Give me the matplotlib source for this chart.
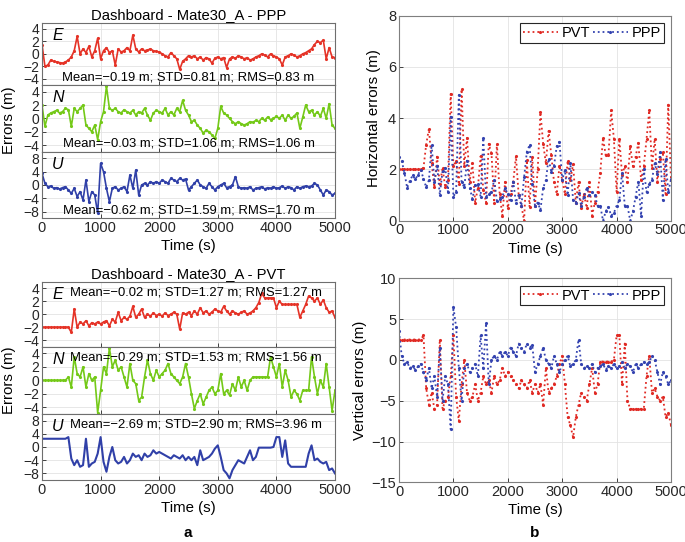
import numpy as np
import matplotlib
matplotlib.use('Agg')
import matplotlib.pyplot as plt

TIME = np.arange(0, 5001, 50)

# ---- PPP errors (m), read by eye ----
PPP_E = [1.5, -2.0, -1.8, -1.0, -1.2, -1.3, -1.4, -1.5, -1.3, -1.0,
         -0.5, 0.5, 2.8, 0.0, 0.8, 0.2, 1.2, -0.5, 0.5, 2.5,
         -0.8, 0.5, 1.0, 0.2, 0.5, -1.8, 0.8, 0.3, 0.5, 1.0,
         0.5, 3.0, 0.8, 0.3, 0.8, 0.5, 0.6, 0.8, 0.5, 0.4,
         0.3, 0.0, -0.3, -0.5, 0.2, -0.3, -0.8, -2.5, -1.2, -0.8,
         -0.3, -0.5, -0.3, -0.8, -0.5, -1.0, -0.6, -0.8, -1.5, -0.7,
         -0.5, -0.8, -0.6, -2.2, -0.8, -0.5, -0.7, -0.3, -0.5, -0.8,
         -0.6, -1.0, -0.8, -0.5, -0.3, 0.0, -0.2, -0.5, 0.0, -0.3,
         -0.5, -0.8, -1.8, -0.5, -0.3, 0.0, -0.2, -0.5, -0.3, 0.0,
         0.2, 0.5, 0.8, 1.5, 2.0, 1.8, 2.2, -0.8, 1.0, -0.5,
         -0.6]
PPP_N = [2.0, -1.2, 0.5, 0.8, 1.0, 1.2, 0.8, 1.0, 1.5, 1.3,
         -1.2, 1.5, 1.0, 1.5, 2.0, -1.0, -1.5, -2.0, -1.0, -3.2,
         -0.5, 1.0, 4.8, 1.5, 1.2, 1.5, 1.0, 0.8, 1.3, 1.0,
         0.8, 1.2, 0.5, 1.0, 0.8, 1.5, 0.5, -0.3, 0.8, 1.2,
         1.0, 0.8, 1.5, 0.5, 1.0, 0.5, 1.5, 1.0, 2.7, 1.2,
         0.5, -0.5, -0.3, -1.0, -1.5, -2.2, -1.8, -2.0, -2.5, -3.0,
         -1.5, 1.8, 0.8, 0.5, 0.0, -0.5, -0.8, -0.5, -0.8, -1.0,
         -0.8, -0.5, -0.6, -0.3, -0.5, 0.0, -0.3, 0.2, -0.2, 0.0,
         0.3, 0.0, 0.5, -0.3, 0.5, 0.0, 0.3, 0.8, -1.5, 0.2,
         2.0, 1.0, 1.2, 0.5, 1.0, 0.3, 1.5, 0.0, 2.2, -1.0,
         -1.5]
PPP_U = [3.5, 0.5, -0.5, -0.3, -1.0, -0.8, -1.2, -0.8, -0.5, -1.5,
         -2.5, -1.0, -3.5, -2.0, -4.5, 1.5, -5.0, -2.0, -3.0, -8.5,
         6.5, 4.0, -1.0, -5.0, -1.0, -0.5, -1.5, -1.0, -0.5, -2.0,
         3.0, -1.0, 4.5, -3.0, 0.0, 0.5, 0.0, 1.0, 0.5, 1.0,
         0.5, 1.5, 1.0, 0.5, 2.0, 1.5, 1.0, 2.0, 1.5, 1.8,
         -1.5, -0.5, 0.5, 1.5, 0.0, -0.5, -1.0, 0.5, -0.5, -1.5,
         -0.5, 0.0, 0.5, -0.8, -0.5, 0.0, 2.5, -0.5, -1.0, -0.8,
         -1.0, -0.5, -1.5, -1.0, -0.8, -0.5, -1.2, -0.8, -1.0, -0.5,
         -1.0, -0.8, -0.3, -1.0, -0.5, -0.8, -1.5, -0.5, -1.0, -0.5,
         -0.3, -0.5, -0.3, 0.5, 0.0, -1.5, -3.0, -1.5, -2.0, -3.0,
         -2.5]

# ---- PVT errors (m), read by eye ----
PVT_E = [-2.0, -2.0, -2.0, -2.0, -2.0, -2.0, -2.0, -2.0, -2.0, -2.0,
         -2.8, 0.8, -2.0, -1.2, -1.5, -1.0, -1.8, -1.3, -1.5, -1.2,
         -1.5, -1.2, -1.0, -1.8, -0.8, -1.2, 0.3, -1.0, -0.5, -0.8,
         -0.3, 1.2, -0.5, 0.0, 0.8, -0.5, 0.0, -0.3, 0.2, -0.2,
         0.0, -0.3, 0.2, -0.2, 0.0, 0.3, 0.0, -2.3, 0.2, 0.0,
         0.3, -0.2, 0.5, 0.0, 1.0, 0.2, 0.5, 0.0, 0.3, 0.8,
         0.5, 0.3, 1.2, 0.5, 0.0, 0.5, 0.2, 0.0, 0.3, 0.5,
         0.0, 0.2, 0.5, 1.0, 1.8, 3.2, 2.5, 2.5, 2.5, 2.5,
         1.0, 2.0, 1.5, 1.5, 1.5, 1.5, 1.5, 1.5, -0.5, 0.5,
         1.5, 2.8, 2.5, 2.0, 2.5, 1.5, 2.2, 1.0, 0.3, 0.5,
         -0.5]
PVT_N = [0.0, 0.0, 0.0, 0.0, 0.0, 0.0, 0.0, 0.0, 0.0, 0.5,
         -1.0, 3.5, 1.0, 0.5, 2.0, -1.0, 1.0, 0.0, 0.5, -4.8,
         -1.5, 2.0, 1.0, 4.8, 2.0, 3.0, 1.5, 2.0, 0.5, -1.0,
         2.5, 0.0, -0.5, -3.0, -2.5, 0.5, 3.0, 1.0, 0.0, 1.5,
         0.5, 1.0, 1.5, 2.5, 1.0, 0.5, 0.0, -0.5, 0.5, 2.5,
         0.5, -2.0, -4.2, -3.0, -2.0, -3.5, -2.5, -1.5, -1.0, -2.0,
         -1.5, 1.0, -2.0, -1.5, -2.2, -0.5, -1.5, 0.5, -1.0, 0.0,
         -1.5, 0.0, 0.5, 0.5, 0.5, 0.5, 0.5, 0.5, 3.5, 2.0,
         0.5, 2.5, -1.0, 1.5, 0.0, -2.5, -1.5, -2.0, -3.0, -1.5,
         -1.5, -1.5, 3.5, 0.5, -2.0, 0.0, -1.0, 2.5, -1.0, -4.5,
         -1.5]
PVT_U = [2.5, 2.5, 2.5, 2.5, 2.5, 2.5, 2.5, 2.5, 2.5, 3.0,
         -3.5, -5.5, -4.0, -6.0, -5.5, 2.5, -6.0, -5.0, -4.5, -2.0,
         3.0, -4.5, -7.5, -3.0, 0.0, -4.0, -5.0, -4.5, -3.0, -5.0,
         -4.0, -2.0, -3.0, -2.5, -4.0, -2.0, -3.0, -2.5, -1.0, -2.0,
         -1.5, -2.0, -2.5, -3.0, -3.5, -2.5, -3.0, -3.5, -2.5, -4.0,
         -3.0, -4.0, -3.0, -5.5, -1.0, -4.0, -3.5, -3.0, -2.0, -0.5,
         0.5, -3.0, -7.0, -8.0, -9.5, -7.0, -5.5, -4.0, -4.5, -5.0,
         -3.0, -1.0, -4.0, -3.0, -0.2, -0.2, -0.2, -0.2, -0.2, 0.0,
         3.0, 3.0, -3.0, 2.0, -5.0, -6.0, -6.0, -6.0, -6.0, -6.0,
         -6.0, -2.0, 0.5, -4.0, -3.5, -4.5, -5.0, -4.5, -7.0, -6.5,
         -8.0]

STATS = {
    'PPP': ['Mean=\u22120.19 m; STD=0.81 m; RMS=0.83 m',
            'Mean=\u22120.03 m; STD=1.06 m; RMS=1.06 m',
            'Mean=\u22120.62 m; STD=1.59 m; RMS=1.70 m'],
    'PVT': ['Mean=\u22120.02 m; STD=1.27 m; RMS=1.27 m',
            'Mean=\u22120.29 m; STD=1.53 m; RMS=1.56 m',
            'Mean=\u22122.69 m; STD=2.90 m; RMS=3.96 m'],
}
COMPONENTS = ['E', 'N', 'U']
XTICKS = [0, 1000, 2000, 3000, 4000, 5000]

COLORS = {'E': '#E53327', 'N': '#74C918', 'U': '#3040A8',
          'pvt': '#E02A24', 'ppp': '#3443B0'}

plt.rcParams['font.family'] = ['Liberation Sans', 'DejaVu Sans']
plt.rcParams['font.size'] = 10
plt.rcParams['xtick.direction'] = 'in'
plt.rcParams['ytick.direction'] = 'in'
plt.rcParams['xtick.major.size'] = 3
plt.rcParams['ytick.major.size'] = 3
plt.rcParams['xtick.labelsize'] = 10.5
plt.rcParams['ytick.labelsize'] = 10.5

fig = plt.figure(figsize=(6.85, 5.42), dpi=100)

W = 685.0
H = 542.0
LABEL_FS = 10.8


def px_axes(x0, y0, x1, y1):
    return fig.add_axes([x0 / W, 1 - y1 / H, (x1 - x0) / W, (y1 - y0) / H])


def style(ax, edge='#7f7f7f'):
    ax.grid(True, color='#e3e3e3', lw=0.6)
    ax.set_axisbelow(True)
    for s in ax.spines.values():
        s.set_color(edge)
        s.set_linewidth(0.8)
    ax.tick_params(colors='#262626', length=3, width=0.6, pad=2)


def dashboard(rows, series, tag, stat_top):
    axes = []
    for (y0, y1), comp, vals, stat in zip(rows, COMPONENTS, series, STATS[tag]):
        ax = px_axes(42, y0, 335, y1)
        style(ax, '#6e6e6e')
        ax.tick_params(axis='y', labelsize=10)
        if comp == 'U':
            ax.set_ylim(-10, 10)
            ax.set_yticks([-8, -4, 0, 4, 8])
        else:
            ax.set_ylim(-5, 5)
            ax.set_yticks([-4, -2, 0, 2, 4])
        ax.set_xlim(0, 5000)
        ax.set_xticks(XTICKS)
        if tag == 'PVT' and comp == 'U':
            ax.plot(TIME, vals, '-', color=COLORS[comp], lw=1.5)
        else:
            ax.plot(TIME, vals, '-', color=COLORS[comp], lw=1.2,
                    marker='.', ms=2.5)
        if comp != 'U':
            ax.tick_params(labelbottom=False)
        ax.text(0.035, 0.92, comp, transform=ax.transAxes,
                style='italic', fontsize=11.5, va='top', ha='left')
        if stat_top:
            ax.text(0.525, 0.93, stat, transform=ax.transAxes, fontsize=9.4,
                    ha='center', va='top')
        else:
            ax.text(0.5, 0.03, stat, transform=ax.transAxes, fontsize=9.4,
                    ha='center', va='bottom')
        axes.append(ax)
    axes[0].set_title(f'Dashboard - Mate30_A - {tag}', fontsize=10.6, pad=3)
    axes[-1].set_xlabel('Time (s)', fontsize=LABEL_FS, labelpad=3)
    return axes


dashboard([(22.7, 85), (85, 151.7), (151.7, 218.3)],
          [PPP_E, PPP_N, PPP_U], 'PPP', stat_top=False)
dashboard([(281.7, 346.7), (346.7, 414), (414, 480)],
          [PVT_E, PVT_N, PVT_U], 'PVT', stat_top=True)

fig.text(9 / W, 1 - 120 / H, 'Errors (m)', rotation=90, va='center',
         ha='center', fontsize=LABEL_FS)
fig.text(9 / W, 1 - 380 / H, 'Errors (m)', rotation=90, va='center',
         ha='center', fontsize=LABEL_FS)

# horizontal errors from the E/N components
h_pvt = np.hypot(PVT_E, PVT_N)
h_ppp = np.hypot(PPP_E, PPP_N)

ax_h = px_axes(399, 15.7, 671, 220.7)
style(ax_h)
ax_h.plot(TIME, h_pvt, ':', color=COLORS['pvt'], lw=1.3, marker='.', ms=2.5,
          label='PVT')
ax_h.plot(TIME, h_ppp, ':', color=COLORS['ppp'], lw=1.3, marker='.', ms=2.5,
          label='PPP')
ax_h.set_xlim(0, 5000)
ax_h.set_ylim(0, 8)
ax_h.set_xticks(XTICKS)
ax_h.set_yticks([0, 2, 4, 6, 8])
ax_h.set_ylabel('Horizontal errors (m)', fontsize=LABEL_FS, labelpad=5)
ax_h.set_xlabel('Time (s)', fontsize=LABEL_FS, labelpad=3)

ax_v = px_axes(399, 278.3, 671, 482.3)
style(ax_v)
ax_v.plot(TIME, PVT_U, ':', color=COLORS['pvt'], lw=1.3, marker='.', ms=2.5,
          label='PVT')
ax_v.plot(TIME, PPP_U, ':', color=COLORS['ppp'], lw=1.3, marker='.', ms=2.5,
          label='PPP')
ax_v.set_xlim(0, 5000)
ax_v.set_ylim(-15, 10)
ax_v.set_xticks(XTICKS)
ax_v.set_yticks([-15, -10, -5, 0, 5, 10])
ax_v.set_ylabel('Vertical errors (m)', fontsize=LABEL_FS, labelpad=3)
ax_v.set_xlabel('Time (s)', fontsize=LABEL_FS, labelpad=3)

for ax in (ax_h, ax_v):
    leg = ax.legend(loc='upper right', ncol=2, fontsize=10.5, fancybox=False,
                    handlelength=2.4, handletextpad=0.25, columnspacing=0.2,
                    borderpad=0.2, borderaxespad=0.5, framealpha=1)
    leg.get_frame().set_edgecolor('#262626')
    leg.get_frame().set_linewidth(0.8)

fig.text(188 / W, 1 - 533 / H, 'a', fontweight='bold', fontsize=11,
         ha='center', va='center')
fig.text(535 / W, 1 - 533 / H, 'b', fontweight='bold', fontsize=11,
         ha='center', va='center')

fig.savefig('out.png', dpi=100)
